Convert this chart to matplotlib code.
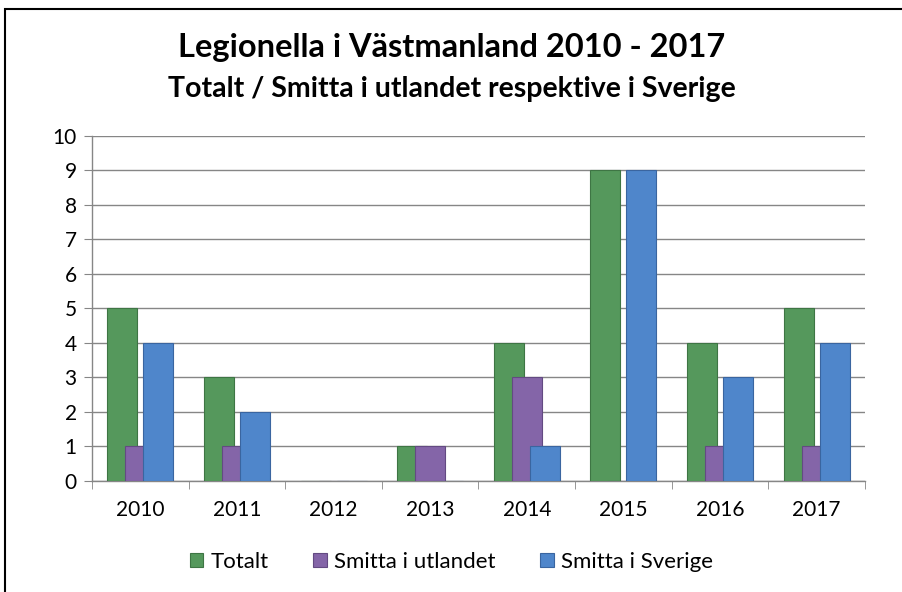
import matplotlib.pyplot as plt
from matplotlib.patches import Rectangle
import numpy as np

plt.rcParams['font.family'] = ['Lato', 'DejaVu Sans']

years = ["2010", "2011", "2012", "2013", "2014", "2015", "2016", "2017"]
totalt = [5, 3, 0, 1, 4, 9, 4, 5]
utlandet = [1, 1, 0, 1, 3, 0, 1, 1]
sverige = [4, 2, 0, 0, 1, 9, 3, 4]

series = [("Totalt", totalt, "#55985C", "#3E7544"),
          ("Smitta i utlandet", utlandet, "#8465A8", "#634A82"),
          ("Smitta i Sverige", sverige, "#4F86CB", "#3A65A0")]

fig = plt.figure(figsize=(9.03, 5.92), dpi=100)
ax = fig.add_axes([0.1019, 0.1875, 0.856, 0.5828])

# outer frame
fig.patches.append(Rectangle((5 / 903, -0.1), 1.2, 1.1 - 9 / 592, transform=fig.transFigure,
                             fill=False, edgecolor="black", linewidth=1.5))

x = np.arange(len(years))
width = 0.31
offset = 0.186
for i, (name, vals, color, edge) in enumerate(series):
    ax.bar(x + (i - 1) * offset, vals, width, color=color, edgecolor=edge,
           linewidth=0.8, label=name, zorder=3 + i)

ax.set_xlim(-0.5, len(years) - 0.5)
ax.set_ylim(0, 10)
ax.set_yticks(range(0, 11))
ax.set_xticks(x)
ax.set_xticklabels(years)
ax.set_xticks(np.arange(-0.5, len(years), 1), minor=True)
ax.tick_params(axis="x", which="major", length=0, pad=14, labelsize=15)
ax.tick_params(axis="x", which="minor", length=6, color="#868686", direction="out")
ax.tick_params(axis="y", length=6, color="#868686", labelsize=15, pad=5)

ax.grid(axis="y", color="#868686", linewidth=1, zorder=0)
ax.set_axisbelow(True)
for s in ["top", "right"]:
    ax.spines[s].set_visible(False)
for s in ["left", "bottom"]:
    ax.spines[s].set_color("#868686")
    ax.spines[s].set_linewidth(1)

fig.text(0.5, 1 - 48 / 592, "Legionella i Västmanland 2010 - 2017", ha="center",
         va="center", fontsize=23.5, fontweight="bold")
fig.text(0.5, 1 - 89 / 592, "Totalt / Smitta i utlandet respektive i Sverige", ha="center",
         va="center", fontsize=20.5, fontweight="bold")

fig.legend(loc="center", bbox_to_anchor=(0.5, 1 - 562 / 592), ncol=3, frameon=False,
           fontsize=16, handlelength=0.6, handleheight=0.6, handletextpad=0.35,
           columnspacing=2.0)

plt.savefig("out.png", dpi=100)
